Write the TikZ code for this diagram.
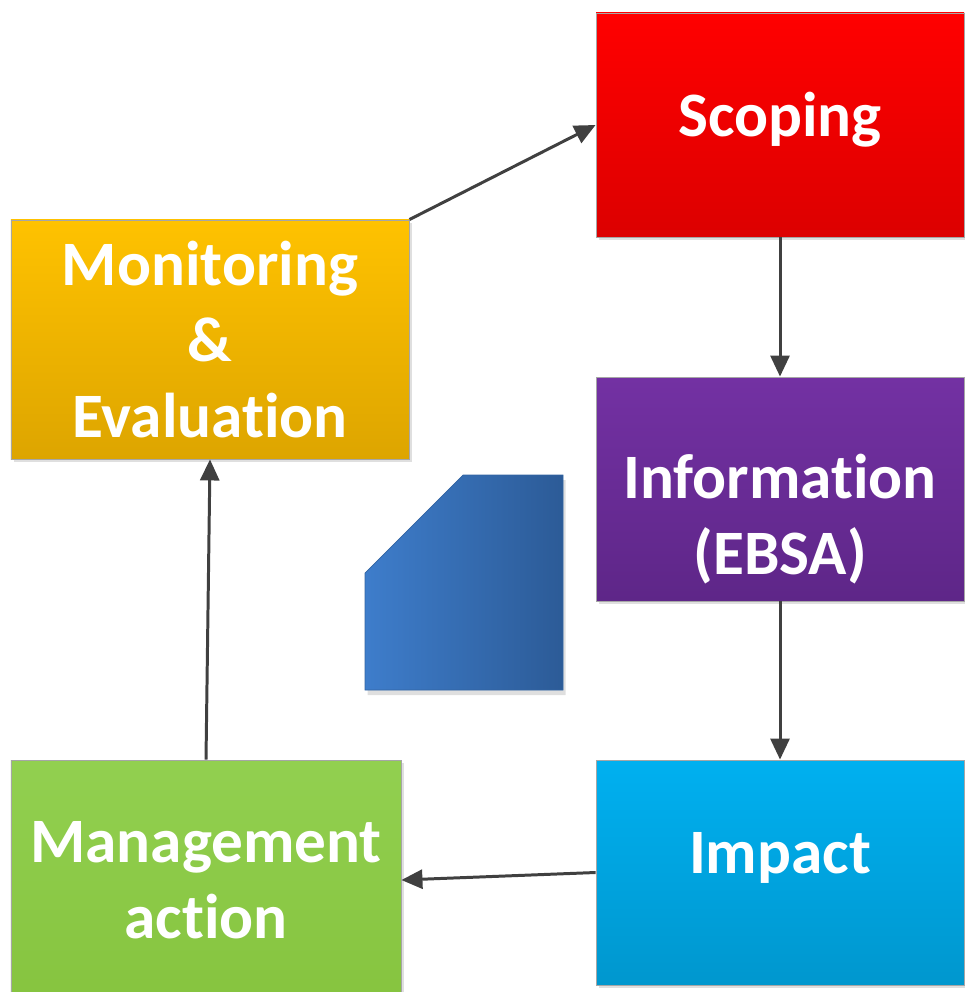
\documentclass[tikz,border=0pt]{standalone}
\usepackage{fontspec}
\setmainfont{Carlito}[Ligatures=NoCommon]
\usetikzlibrary{arrows.meta,shadows}

\definecolor{scopeRed}{HTML}{FF0000}
\definecolor{scopeRedDk}{HTML}{DC0000}
\definecolor{infoPurple}{HTML}{7331A3}
\definecolor{infoPurpleDk}{HTML}{5E2688}
\definecolor{impactBlue}{HTML}{00B0F0}
\definecolor{impactBlueDk}{HTML}{0097CE}
\definecolor{monGold}{HTML}{FFC200}
\definecolor{monGoldDk}{HTML}{DDA500}
\definecolor{mgmtGreen}{HTML}{92D050}
\definecolor{mgmtGreenDk}{HTML}{86C43F}
\definecolor{tabBlue}{HTML}{3E7DCB}
\definecolor{tabBlueDk}{HTML}{2C5B97}
\definecolor{arrowGray}{HTML}{404040}

\begin{document}
\begin{tikzpicture}[>={Triangle[length=0.42cm,width=0.38cm]},
  stage/.style={draw=gray!70,line width=0.5pt,minimum width=7.36cm,minimum height=4.48cm,
    align=center,text=white,font=\fontsize{36}{43}\selectfont\bfseries,
    drop shadow={shadow xshift=0.06cm,shadow yshift=-0.06cm,opacity=0.25}},
  stagetext/.style={text=white,align=center,font=\fontsize{36}{43}\selectfont\bfseries},
  flow/.style={->,draw=arrowGray,line width=1.7pt}]
\useasboundingbox (0,0) rectangle (19.28,-19.84);

\node[stage,top color=scopeRed,bottom color=scopeRedDk,
  label={[stagetext,yshift=0.1cm]center:Scoping}] (scoping) at (15.6,-2.5) {};
\node[stage,top color=infoPurple,bottom color=infoPurpleDk,
  label={[stagetext,yshift=-0.6cm]center:Information\\(EBSA)}] (info) at (15.6,-9.78) {};
\node[stage,top color=impactBlue,bottom color=impactBlueDk,minimum height=4.5cm,
  label={[stagetext,yshift=0.3cm]center:Impact}] (impact) at (15.6,-17.45) {};
\node[stage,top color=monGold,bottom color=monGoldDk,minimum width=7.96cm,minimum height=4.78cm] (monitor) at (4.2,-6.79) {Monitoring\\\&\\Evaluation};
\node[stage,top color=mgmtGreen,bottom color=mgmtGreenDk,minimum width=7.8cm,minimum height=4.8cm] (mgmt) at (4.12,-17.6) {Management\\action};

% folded tab in the middle
\path[left color=tabBlue,right color=tabBlueDk,draw=tabBlue!80!black,line width=0.4pt,
  drop shadow={shadow xshift=0.05cm,shadow yshift=-0.1cm,opacity=0.25}]
  (7.3,-11.46) -- (9.26,-9.5) -- (11.26,-9.5) -- (11.26,-13.8) -- (7.3,-13.8) -- cycle;

\draw[flow] (monitor.north east) -- (scoping.west);
\draw[flow] (scoping) -- (info);
\draw[flow] (info) -- (impact);
\draw[flow] (impact.west) -- (mgmt.east);
\draw[flow] (mgmt.north) -- (monitor.south);
\end{tikzpicture}
\end{document}
